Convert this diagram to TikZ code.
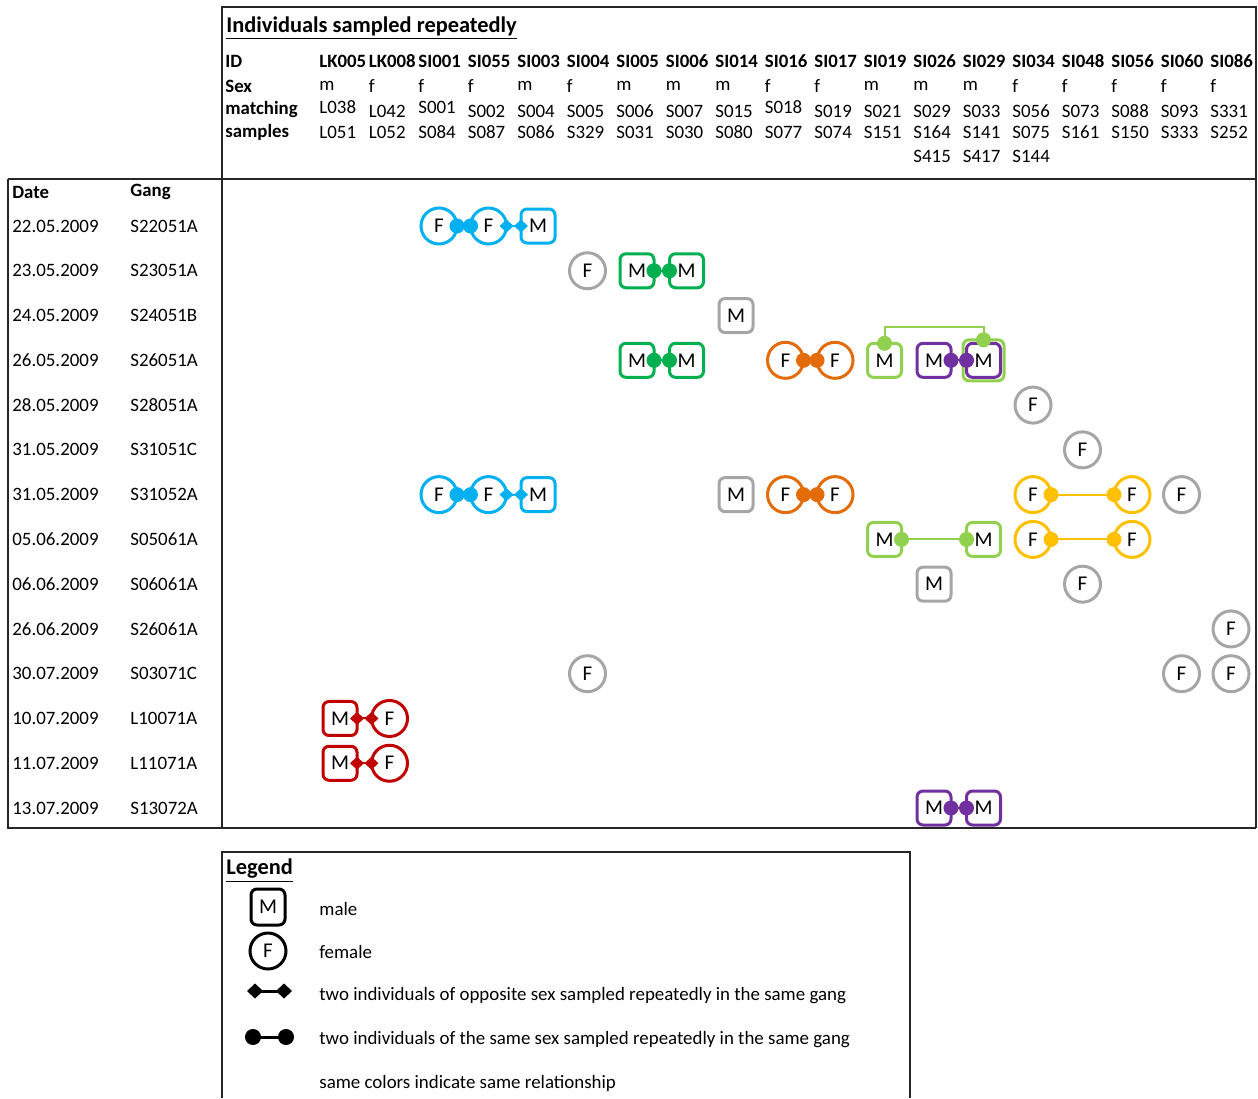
\documentclass[tikz,border=0pt]{standalone}
\usepackage{fontspec}
\setmainfont{Carlito}
\usetikzlibrary{arrows.meta, positioning}
\definecolor{cblue}{HTML}{00B0F0}
\definecolor{cgreen}{HTML}{00B050}
\definecolor{clime}{HTML}{92D050}
\definecolor{corange}{HTML}{E36C09}
\definecolor{cpurple}{HTML}{7030A0}
\definecolor{cyellow}{HTML}{FFC000}
\definecolor{cred}{HTML}{C00000}
\definecolor{cgrey}{HTML}{A6A6A6}
% column and row positions (pixels of the table)
\newcommand{\cx}[1]{340+49.5*#1}
\newcommand{\ry}[1]{226+44.77*#1}

\begin{document}
\begin{tikzpicture}[x=0.5pt, y=-0.5pt,
    every node/.style={font=\fontsize{9.45}{11}\selectfont, inner sep=0pt},
    lbl/.style={anchor=west},
    hd/.style={anchor=west, font=\fontsize{9.4}{11}\selectfont\bfseries},
    ttl/.style={anchor=west, font=\fontsize{11.2}{13}\selectfont\bfseries},
    male/.style={rectangle, rounded corners=3pt, draw=#1, line width=1.5pt,
                 minimum size=17pt, outer sep=0pt, font=\fontsize{10.5}{12}\selectfont},
    fem/.style={circle, draw=#1, line width=1.5pt,
                minimum size=18pt, outer sep=0pt, font=\fontsize{10.5}{12}\selectfont},
    samesex/.style={draw=#1, line width=1pt, {Circle[length=7.5pt]}-{Circle[length=7.5pt]},
                    shorten <=-3.75pt, shorten >=-3.75pt},
    oppsex/.style={draw=#1, line width=1pt,
                   {Diamond[length=7pt,width=6.5pt]}-{Diamond[length=7pt,width=6.5pt]},
                   shorten <=-3.5pt, shorten >=-3.5pt},
    tblline/.style={line width=0.9pt, draw=black!85}
]
    \useasboundingbox (0,0) rectangle (1258,1098);

    % table frame
    \draw[tblline] (222,828) -- (222,7) -- (1256,7) -- (1256,828);
    \draw[tblline] (8,179) -- (1256,179);
    \draw[tblline] (8,179) -- (8,828) -- (1256,828);

    % header
    \node[ttl] (title) at (226,28) {\underline{Individuals sampled repeatedly}};
    \node[hd] (hid) at (225,61) {ID};
    \node[hd] (hsex) at (225,86) {Sex};
    \node[hd] (hmat) at (225,109) {matching};
    \node[hd] (hsam) at (225,132) {samples};
    \foreach \id [count=\i from 0] in {LK005,LK008,SI001,SI055,SI003,SI004,SI005,SI006,SI014,
        SI016,SI017,SI019,SI026,SI029,SI034,SI048,SI056,SI060,SI086}
        \node[hd] (id\i) at (\cx{\i}-21,61) {\id};
    \foreach \s [count=\i from 0] in {m,f,f,f,m,f,m,m,m,f,f,m,m,m,f,f,f,f,f}
        \node[lbl] (sx\i) at (\cx{\i}-21,86) {\s};
    \foreach \s/\y [count=\i from 0] in {L038/107,L042/111,S001/107,S002/111,S004/111,S005/111,
        S006/111,S007/111,S015/111,S018/107,S019/111,S021/111,S029/111,S033/111,S056/111,
        S073/111,S088/111,S093/111,S331/111}
        \node[lbl] (ma\i) at (\cx{\i}-21,\y) {\s};
    \foreach \s [count=\i from 0] in {L051,L052,S084,S087,S086,S329,S031,S030,S080,S077,
        S074,S151,S164,S141,S075,S161,S150,S333,S252}
        \node[lbl] (mb\i) at (\cx{\i}-21,132) {\s};
    \node[lbl] (mc12) at (\cx{12}-21,156) {S415};
    \node[lbl] (mc13) at (\cx{13}-21,156) {S417};
    \node[lbl] (mc14) at (\cx{14}-21,156) {S144};

    % dates and gangs
    \node[hd] (hdate) at (12,192) {Date};
    \node[hd] (hgang) at (130,192) {Gang};
    \foreach \d/\g [count=\j from 0] in {22.05.2009/S22051A,23.05.2009/S23051A,
        24.05.2009/S24051B,26.05.2009/S26051A,28.05.2009/S28051A,31.05.2009/S31051C,
        31.05.2009/S31052A,05.06.2009/S05061A,06.06.2009/S06061A,26.06.2009/S26061A,
        30.07.2009/S03071C,10.07.2009/L10071A,11.07.2009/L11071A,13.07.2009/S13072A}
    {
        \node[lbl] (dt\j) at (12,\ry{\j}) {\d};
        \node[lbl] (gg\j) at (130,\ry{\j}) {\g};
    }

    % 22.05.2009
    \node[fem=cblue] (a2) at (\cx{2},\ry{0}) {F};
    \node[fem=cblue] (a3) at (\cx{3},\ry{0}) {F};
    \node[male=cblue] (a4) at (\cx{4},\ry{0}) {M};
    \draw[samesex=cblue] (a2) -- (a3);
    \draw[oppsex=cblue] (a3) -- (a4);
    % 23.05.2009
    \node[fem=cgrey] (b5) at (\cx{5},\ry{1}) {F};
    \node[male=cgreen] (b6) at (\cx{6},\ry{1}) {M};
    \node[male=cgreen] (b7) at (\cx{7},\ry{1}) {M};
    \draw[samesex=cgreen] (b6) -- (b7);
    % 24.05.2009
    \node[male=cgrey] (c8) at (\cx{8},\ry{2}) {M};
    % 26.05.2009
    \node[male=cgreen] (d6) at (\cx{6},\ry{3}) {M};
    \node[male=cgreen] (d7) at (\cx{7},\ry{3}) {M};
    \node[fem=corange] (d9) at (\cx{9},\ry{3}) {F};
    \node[fem=corange] (d10) at (\cx{10},\ry{3}) {F};
    \node[male=clime] (d11) at (\cx{11},\ry{3}) {M};
    \node[male=clime, minimum size=20.5pt] (d13o) at (\cx{13},\ry{3}) {};
    \node[male=cpurple] (d12) at (\cx{12},\ry{3}) {M};
    \node[male=cpurple] (d13) at (\cx{13},\ry{3}) {M};
    \draw[samesex=cgreen] (d6) -- (d7);
    \draw[samesex=corange] (d9) -- (d10);
    \draw[samesex=cpurple] (d12) -- (d13);
    \draw[samesex=clime] (d11.north) -- ++(0,-16) -| (d13o.north);
    % 28.05.2009
    \node[fem=cgrey] (e14) at (\cx{14},\ry{4}) {F};
    % 31.05.2009 S31051C
    \node[fem=cgrey] (f15) at (\cx{15},\ry{5}) {F};
    % 31.05.2009 S31052A
    \node[fem=cblue] (g2) at (\cx{2},\ry{6}) {F};
    \node[fem=cblue] (g3) at (\cx{3},\ry{6}) {F};
    \node[male=cblue] (g4) at (\cx{4},\ry{6}) {M};
    \node[male=cgrey] (g8) at (\cx{8},\ry{6}) {M};
    \node[fem=corange] (g9) at (\cx{9},\ry{6}) {F};
    \node[fem=corange] (g10) at (\cx{10},\ry{6}) {F};
    \node[fem=cyellow] (g14) at (\cx{14},\ry{6}) {F};
    \node[fem=cyellow] (g16) at (\cx{16},\ry{6}) {F};
    \node[fem=cgrey] (g17) at (\cx{17},\ry{6}) {F};
    \draw[samesex=cblue] (g2) -- (g3);
    \draw[oppsex=cblue] (g3) -- (g4);
    \draw[samesex=corange] (g9) -- (g10);
    \draw[samesex=cyellow] (g14) -- (g16);
    % 05.06.2009
    \node[male=clime] (h11) at (\cx{11},\ry{7}) {M};
    \node[male=clime] (h13) at (\cx{13},\ry{7}) {M};
    \node[fem=cyellow] (h14) at (\cx{14},\ry{7}) {F};
    \node[fem=cyellow] (h16) at (\cx{16},\ry{7}) {F};
    \draw[samesex=clime] (h11) -- (h13);
    \draw[samesex=cyellow] (h14) -- (h16);
    % 06.06.2009
    \node[male=cgrey] (i12) at (\cx{12},\ry{8}) {M};
    \node[fem=cgrey] (i15) at (\cx{15},\ry{8}) {F};
    % 26.06.2009
    \node[fem=cgrey] (j18) at (\cx{18},\ry{9}) {F};
    % 30.07.2009
    \node[fem=cgrey] (k5) at (\cx{5},\ry{10}) {F};
    \node[fem=cgrey] (k17) at (\cx{17},\ry{10}) {F};
    \node[fem=cgrey] (k18) at (\cx{18},\ry{10}) {F};
    % 10.07.2009 and 11.07.2009
    \node[male=cred] (l0) at (\cx{0},\ry{11}) {M};
    \node[fem=cred] (l1) at (\cx{1},\ry{11}) {F};
    \draw[oppsex=cred] (l0) -- (l1);
    \node[male=cred] (m0) at (\cx{0},\ry{12}) {M};
    \node[fem=cred] (m1) at (\cx{1},\ry{12}) {F};
    \draw[oppsex=cred] (m0) -- (m1);
    % 13.07.2009
    \node[male=cpurple] (n12) at (\cx{12},\ry{13}) {M};
    \node[male=cpurple] (n13) at (\cx{13},\ry{13}) {M};
    \draw[samesex=cpurple] (n12) -- (n13);

    % legend
    \draw[tblline] (222,1098) |- (910,852) -- (910,1098);
    \node[ttl] (legt) at (226,871) {\underline{Legend}};
    \node[male=black, minimum height=18pt] (lgm) at (268,907) {M};
    \node[lbl] (lgmt) at (319,909) {male};
    \node[fem=black] (lgf) at (268,951) {F};
    \node[lbl] (lgft) at (319,952) {female};
    \coordinate (lgo1) at (247,991);
    \coordinate (lgo2) at (292,991);
    \draw[line width=1.5pt, {Diamond[length=8pt,width=7.5pt]}-{Diamond[length=8pt,width=7.5pt]}] (lgo1) -- (lgo2);
    \node[lbl] (lgot) at (319,996) {two individuals of opposite sex sampled repeatedly in the same gang};
    \coordinate (lgs1) at (245,1037);
    \coordinate (lgs2) at (294,1037);
    \draw[line width=1.5pt, {Circle[length=8pt]}-{Circle[length=8pt]}] (lgs1) -- (lgs2);
    \node[lbl] (lgst) at (319,1040) {two individuals of the same sex sampled repeatedly in the same gang};
    \node[lbl] (lgct) at (319,1083) {same colors indicate same relationship};
\end{tikzpicture}
\end{document}
